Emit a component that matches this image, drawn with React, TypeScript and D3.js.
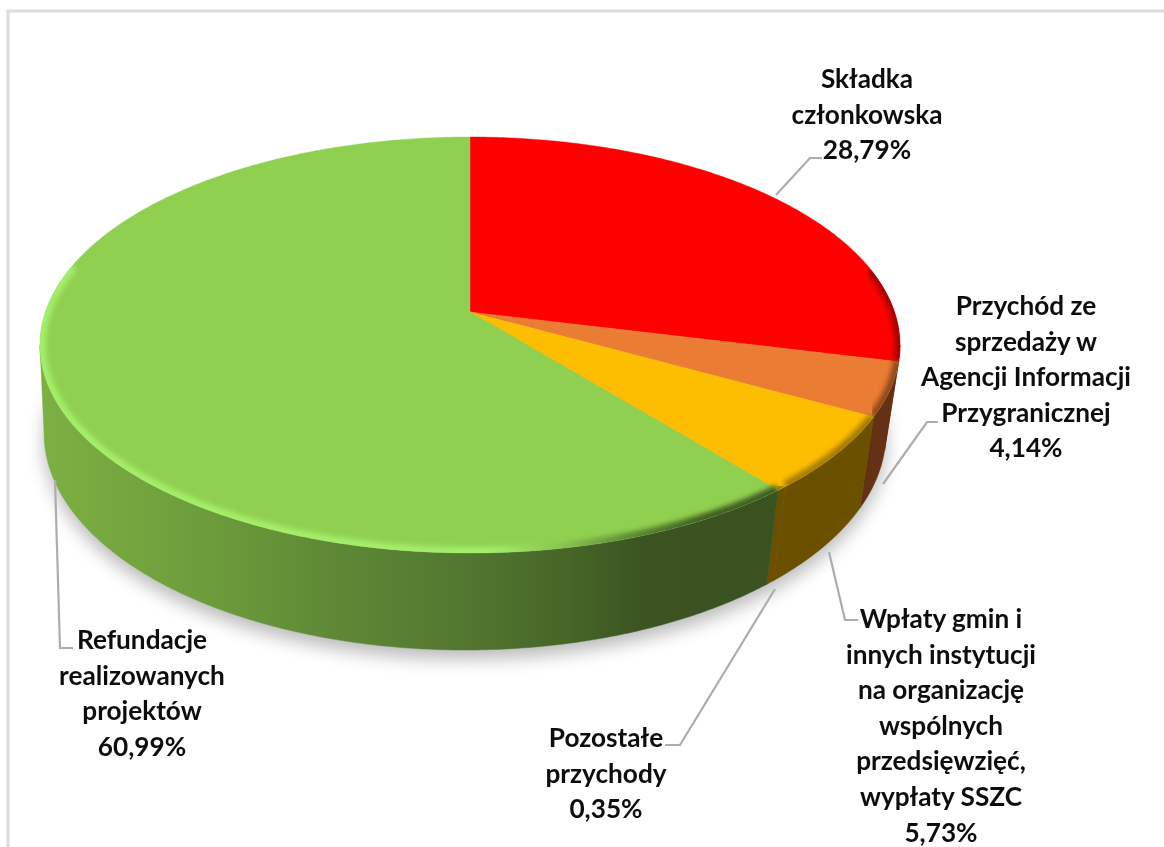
import React from "react";
import * as d3 from "d3";

const categories = [
  ["Składka", "członkowska"],
  ["Przychód ze", "sprzedaży w", "Agencji Informacji", "Przygranicznej"],
  ["Wpłaty gmin i", "innych instytucji", "na organizację", "wspólnych", "przedsięwzięć,", "wypłaty SSZC"],
  ["Pozostałe", "przychody"],
  ["Refundacje", "realizowanych", "projektów"],
];
const values = [28.79, 4.14, 5.73, 0.35, 60.99];
const valueLabels = ["28,79%", "4,14%", "5,73%", "0,35%", "60,99%"];
const topColors = ["#ff0000", "#ea7c33", "#fdbd00", "#fdbd00", "#90d050"];
const sideColors = ["#8c0000", "#643114", "#6b5000", "#6b5000", "url(#greenSide)"];
const bevelColors = ["#a80000", "#8f4a1c", "#a67c00", "#a67c00", "url(#greenBevel)"];
const labelAnchors = [
  { x: 867, y: 88 },
  { x: 1026, y: 315 },
  { x: 941, y: 628 },
  { x: 606, y: 747 },
  { x: 142, y: 649 },
];
const leaders = [
  [[776, 195], [810, 158], [822, 158]],
  [[883, 484], [927, 422], [938, 422]],
  [[829, 552], [845, 620], [858, 620]],
  [[775, 589], [680, 745], [665, 745]],
  [[55, 480], [60, 648], [73, 648]],
];

const K = 0.1587;
const project = (a: number, cx: number, yA: number, A: number, B: number): [number, number] => {
  const u = Math.sin(a);
  const v = -Math.cos(a);
  const d = 1 - K * v;
  return [cx + (A * u) / d, yA + (B * v) / d];
};
const topRim = (a: number) => project(a, 470, 312, 424.6, 202.8);
const botRim = (a: number) => project(a, 465, 398.6, 415.6, 211.5);

// angles of the left and right extremes of the rim: the visible wall lies between them
const wallFrom = Math.acos(-K);
const wallTo = 2 * Math.PI - wallFrom;

const samples = (a0: number, a1: number) => {
  const n = Math.max(2, Math.ceil(Math.abs(a1 - a0) / 0.01));
  return d3.range(n + 1).map((i) => a0 + ((a1 - a0) * i) / n);
};
const line = d3.line<[number, number]>().x((d) => d[0]).y((d) => d[1]);

const arcs = d3.pie<number>().sort(null)(values);
const fullTop = (line(samples(0, 2 * Math.PI).map(topRim)) as string) + "Z";
const fullBot = (line(samples(0, 2 * Math.PI).map(botRim)) as string) + "Z";

const greenStops: [number, string][] = [
  [0, "#7db043"], [0.22, "#6d9d3b"], [0.42, "#5d8635"], [0.58, "#527730"],
  [0.72, "#466526"], [0.82, "#3b5421"], [1, "#3a5120"],
];
const bevelStops: [number, string][] = [
  [0, "#a4ee6a"], [0.62, "#a4ee6a"], [0.72, "#86bd4e"], [0.8, "#5f8a36"], [0.9, "#40601f"], [1, "#3f5c22"],
];

const font = "Lato, Carlito, 'Open Sans', sans-serif";

export default function App() {
  return (
    <svg width={1164} height={847} style={{ position: "absolute", left: 0, top: 0, display: "block", background: "#fff" }}>
      <defs>
        <linearGradient id="greenSide" gradientUnits="userSpaceOnUse" x1={40} x2={775} y1={0} y2={0}>
          {greenStops.map(([o, c]) => <stop key={o} offset={o} stopColor={c} />)}
        </linearGradient>
        <linearGradient id="greenBevel" gradientUnits="userSpaceOnUse" x1={40} x2={775} y1={0} y2={0}>
          {bevelStops.map(([o, c]) => <stop key={o} offset={o} stopColor={c} />)}
        </linearGradient>
        <filter id="shadowBlur" x="-10%" y="-10%" width="120%" height="120%">
          <feGaussianBlur stdDeviation={9} />
        </filter>
        <filter id="bevelBlur" x="-5%" y="-5%" width="110%" height="110%">
          <feGaussianBlur stdDeviation={2.6} />
        </filter>
        <filter id="soft" x="-5%" y="-5%" width="110%" height="110%">
          <feGaussianBlur stdDeviation={0.35} />
        </filter>
        <clipPath id="topClip"><path d={fullTop} /></clipPath>
      </defs>

      <path d="M8 847V11H1164" fill="none" stroke="#dcdcdc" strokeWidth={3} />

      <path d={fullBot} transform="translate(0 9)" fill="#000" opacity={0.27} filter="url(#shadowBlur)" />

      <g>
        {arcs.map((a, i) => {
          const s = samples(Math.max(a.startAngle, wallFrom), Math.min(a.endAngle, wallTo));
          const d = (line([...s.map(topRim), ...[...s].reverse().map(botRim)]) as string) + "Z";
          return <path key={i} d={d} fill={sideColors[i]} stroke={sideColors[i]} strokeWidth={0.5} />;
        })}
      </g>

      <g>
        {arcs.map((a, i) => {
          const s = samples(a.startAngle, a.endAngle);
          const apex: [number, number] = [470, 312];
          const d = (line([apex, ...s.map(topRim)]) as string) + "Z";
          return <path key={i} d={d} fill={topColors[i]} stroke={topColors[i]} strokeWidth={0.4} />;
        })}
      </g>

      <g clipPath="url(#topClip)">
        {arcs.map((a, i) => {
          const lo = Math.max(a.startAngle, i === 0 ? 1.35 : a.startAngle);
          const hi = i === 4 ? Math.min(a.endAngle, 4.95) : a.endAngle;
          return (
            <path
              key={i}
              d={line(samples(lo, hi).map(topRim)) as string}
              fill="none"
              stroke={bevelColors[i]}
              strokeWidth={i === 4 ? 12 : 11}
              filter="url(#bevelBlur)"
            />
          );
        })}
      </g>

      <g fill="none" stroke="#adadad" strokeWidth={2.2}>
        {leaders.map((p, i) => (
          <path key={i} d={line(p as [number, number][]) as string} />
        ))}
      </g>

      <g fontFamily={font} fontWeight={700} fontSize={26.2} fill="#111" textAnchor="middle" filter="url(#soft)">
        {categories.map((lines, i) => (
          <text key={i}>
            {[...lines, valueLabels[i]].map((t, j) => (
              <tspan key={j} x={labelAnchors[i].x} y={labelAnchors[i].y + j * 35.6}>{t}</tspan>
            ))}
          </text>
        ))}
      </g>
    </svg>
  );
}
